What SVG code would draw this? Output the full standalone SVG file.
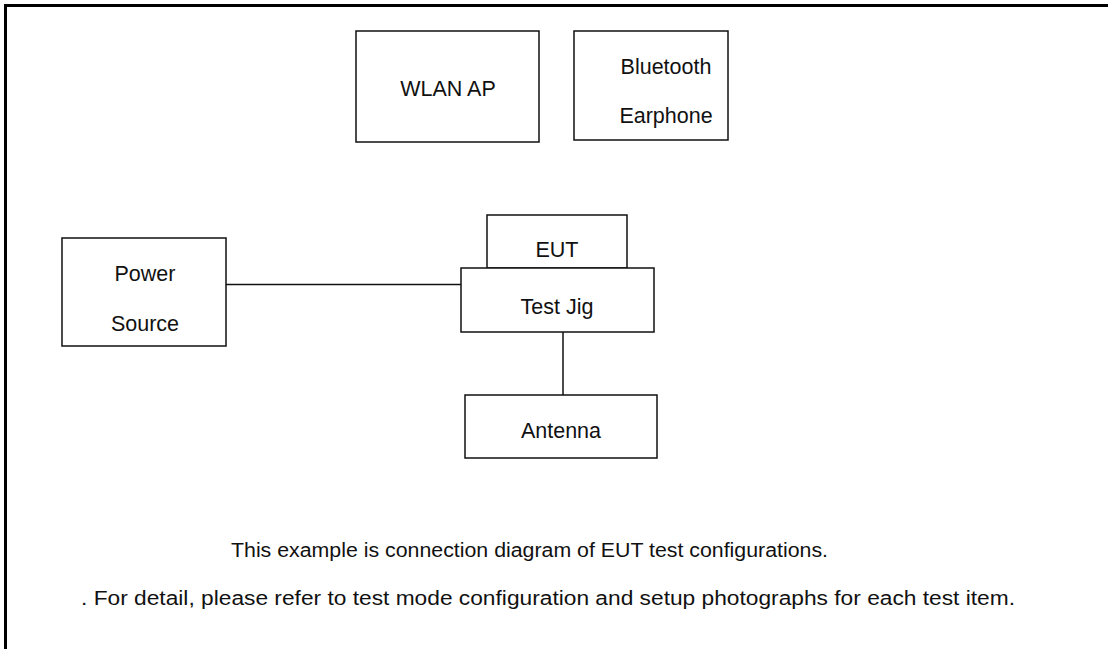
<svg xmlns="http://www.w3.org/2000/svg" width="1108" height="649" viewBox="0 0 1108 649">
<style>
.box{fill:#fff;stroke:#111;stroke-width:1.5}
.lbl{font-family:"Liberation Sans",Arial,sans-serif;font-size:21.5px;fill:#111;text-anchor:middle}
.note{font-family:"Liberation Sans",Arial,sans-serif;font-size:19.5px;fill:#111}
.wire{stroke:#111;stroke-width:1.5;fill:none}
</style>
<rect width="1108" height="649" fill="#fff"/>
<g id="frame">
<path d="M5.5,649 V5.5 H1108" fill="none" stroke="#000" stroke-width="3"/>
</g>
<g id="connectors">
<line class="wire" x1="226" y1="284.5" x2="461" y2="284.5"/>
<line class="wire" x1="563" y1="332" x2="563" y2="395"/>
</g>
<g id="wlan-ap">
<rect class="box" x="356" y="31" width="183" height="111"/>
<text class="lbl" x="448" y="96">WLAN AP</text>
</g>
<g id="bluetooth-earphone">
<rect class="box" x="574" y="31" width="154" height="109"/>
<text class="lbl" x="666" y="74">Bluetooth</text>
<text class="lbl" x="666" y="123">Earphone</text>
</g>
<g id="power-source">
<rect class="box" x="62" y="238" width="164" height="108"/>
<text class="lbl" x="145" y="281">Power</text>
<text class="lbl" x="145" y="331">Source</text>
</g>
<g id="eut">
<rect class="box" x="487" y="215" width="140" height="53"/>
<text class="lbl" x="557" y="257">EUT</text>
</g>
<g id="test-jig">
<rect class="box" x="461" y="268" width="193" height="64"/>
<text class="lbl" x="557" y="314">Test Jig</text>
</g>
<g id="antenna">
<rect class="box" x="465" y="395" width="192" height="63"/>
<text class="lbl" x="561" y="438">Antenna</text>
</g>
<g id="notes">
<text class="note" x="231" y="557" textLength="597" lengthAdjust="spacingAndGlyphs">This example is connection diagram of EUT test configurations.</text>
<text class="note" x="81" y="605" textLength="934" lengthAdjust="spacingAndGlyphs">. For detail, please refer to test mode configuration and setup photographs for each test item.</text>
</g>
</svg>
